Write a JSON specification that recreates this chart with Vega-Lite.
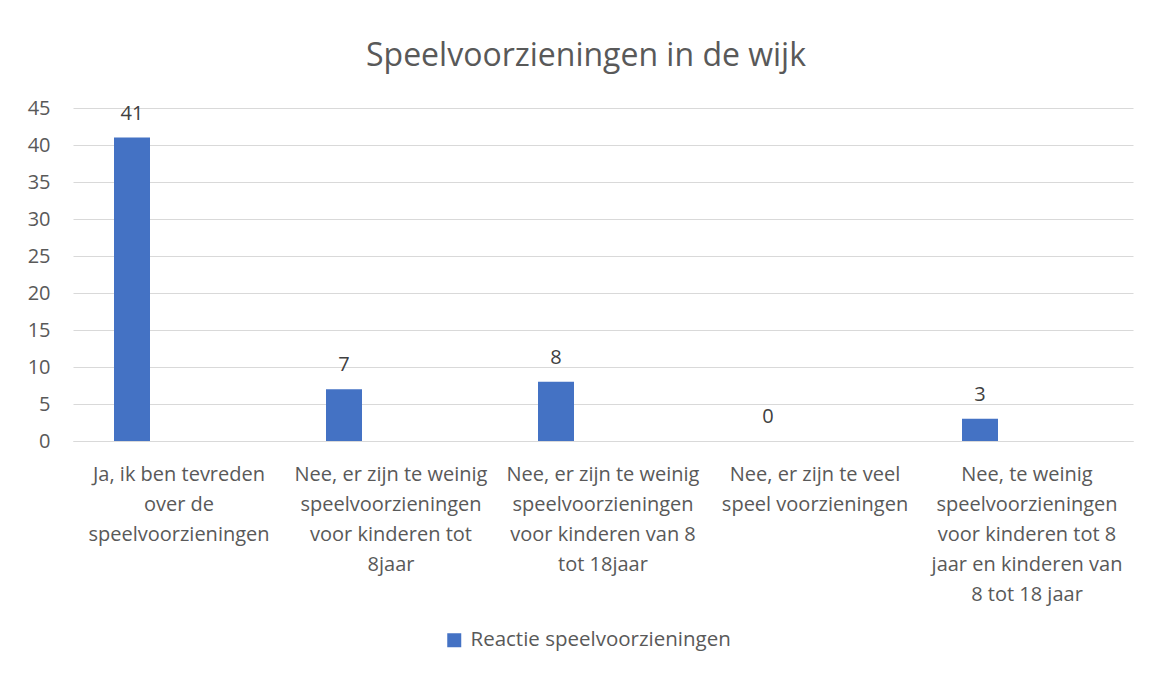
{
  "$schema": "https://vega.github.io/schema/vega-lite/v6.json",
  "width": 1060,
  "height": 333,
  "autosize": "none",
  "padding": {"left": 73, "top": 108, "right": 18, "bottom": 233},
  "background": "white",
  "config": {"font": "Open Sans", "view": {"stroke": null}},
  "title": {"text": "Speelvoorzieningen in de wijk", "fontSize": 32, "font": "Open Sans", "fontWeight": "normal", "color": "#595959", "anchor": "middle", "baseline": "alphabetic", "offset": 0, "dx": -17},
  "data": {"values": [
    {"categorie": "Ja, ik ben tevreden\nover de\nspeelvoorzieningen", "aantal": 41, "reeks": "Reactie speelvoorzieningen"},
    {"categorie": "Nee, er zijn te weinig\nspeelvoorzieningen\nvoor kinderen tot\n8jaar", "aantal": 7, "reeks": "Reactie speelvoorzieningen"},
    {"categorie": "Nee, er zijn te weinig\nspeelvoorzieningen\nvoor kinderen van 8\ntot 18jaar", "aantal": 8, "reeks": "Reactie speelvoorzieningen"},
    {"categorie": "Nee, er zijn te veel\nspeel voorzieningen", "aantal": 0, "reeks": "Reactie speelvoorzieningen"},
    {"categorie": "Nee, te weinig\nspeelvoorzieningen\nvoor kinderen tot 8\njaar en kinderen van\n8 tot 18 jaar", "aantal": 3, "reeks": "Reactie speelvoorzieningen"}
  ]},
  "encoding": {
    "x": {"field": "categorie", "type": "nominal", "sort": null, "title": null,
      "axis": {"labelExpr": "split(datum.label, '\\n')", "labelAngle": 0, "labelLimit": 0, "labelFontSize": 20, "labelColor": "#595959", "labelLineHeight": 30, "labelPadding": 23, "ticks": false, "domainColor": "#d9d9d9", "labelFont": "Open Sans"}},
    "y": {"field": "aantal", "type": "quantitative", "title": null, "scale": {"domain": [0, 45], "nice": false},
      "axis": {"values": [0, 5, 10, 15, 20, 25, 30, 35, 40, 45], "domain": false, "ticks": false, "gridColor": "#d9d9d9", "gridWidth": 1, "labelFontSize": 20, "labelColor": "#595959", "labelPadding": 23, "labelFont": "Open Sans"}}
  },
  "layer": [
    {"mark": {"type": "bar", "width": 36, "xOffset": -47},
     "encoding": {"color": {"field": "reeks", "type": "nominal", "scale": {"range": ["#4472C4"]}, "title": null,
       "legend": {"orient": "none", "legendX": 371, "legendY": 522, "symbolType": "square", "symbolSize": 196, "labelFontSize": 20.5, "labelColor": "#595959", "labelFont": "Open Sans", "labelLimit": 0, "symbolStrokeWidth": 0, "labelOffset": 6}}}},
    {"mark": {"type": "text", "baseline": "alphabetic", "dy": -18, "xOffset": -47, "fontSize": 20, "color": "#404040", "font": "Open Sans"},
     "encoding": {"text": {"field": "aantal", "type": "quantitative"}}}
  ]
}
